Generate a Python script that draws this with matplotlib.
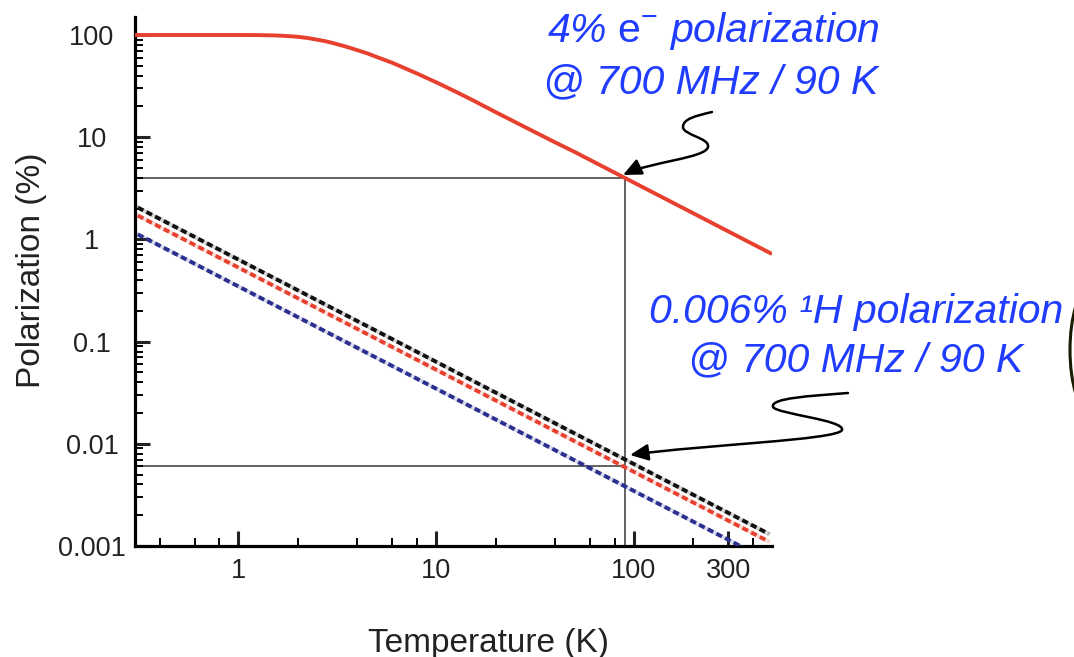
import numpy as np
import matplotlib
matplotlib.use("Agg")
import matplotlib.pyplot as plt
from matplotlib.path import Path
from matplotlib.patches import FancyArrowPatch, Ellipse
from matplotlib.ticker import LogLocator, NullFormatter, FixedLocator, FixedFormatter

plt.rcParams["font.family"] = ["Liberation Sans", "DejaVu Sans"]
plt.rcParams["mathtext.fontset"] = "custom"
plt.rcParams["mathtext.rm"] = "Liberation Sans"
plt.rcParams["mathtext.it"] = "Liberation Sans:italic"

# ── Data ──────────────────────────────────────────────────────────────────────
# electron polarization (%) vs temperature (K), red curve
temp_e = [0.3, 1.0, 1.25, 1.5, 1.75, 2.0, 2.25, 2.5, 2.75, 3.0, 3.5, 4.0, 4.5,
          5.0, 6.0, 7.0, 8.0, 10, 12.5, 15, 20, 30, 40, 50, 90, 150, 250, 500]
pol_e = [100, 100, 99.8, 99.2, 97.8, 96, 93.3, 90, 87, 83.5, 77, 71, 66,
         61, 53.5, 47, 42, 34.5, 28, 23.5, 17.6, 11.8, 8.9, 7.2, 4.0, 2.4, 1.44, 0.72]

# 1H polarization (%) — three fields, straight lines on log-log
temp_h = [0.31, 480]
pol_h_black = [2.05, 0.00132]
pol_h_red = [1.71, 0.00111]
pol_h_blue = [1.12, 0.00072]

# marked operating point
temp_mark = 90
pol_e_mark = 4
pol_h_mark = 0.006

x_ticks = [1, 10, 100, 300]
x_tick_labels = ["1", "10", "100", "300"]
y_ticks = [0.001, 0.01, 0.1, 1, 10, 100]
y_tick_labels = ["0.001", "0.01", "0.1", "1", "10", "100"]

# ── Colours ──────────────────────────────────────────────────────────────────
RED = "#e8402e"
BLACK = "#111111"
NAVY = "#2b2f8f"
GUIDE = "#555555"
NOTE_BLUE = "#1f3cff"
TEXT = "#222222"

W, H = 1074, 657


def px(x, y):
    """Pixel position (from top-left) -> figure fraction."""
    return (x / W, 1 - y / H)


fig = plt.figure(figsize=(W / 100, H / 100), dpi=100)
ax = fig.add_axes([135 / W, 1 - 546 / H, (772 - 135) / W, (546 - 17) / H])
ax.set_xscale("log")
ax.set_yscale("log")
ax.set_xlim(0.3, 500)
ax.set_ylim(0.001, 150)

# guide lines
ax.hlines(pol_e_mark, 0.3, temp_mark, color=GUIDE, lw=1.3, zorder=1)
ax.hlines(pol_h_mark, 0.3, temp_mark, color=GUIDE, lw=1.3, zorder=1)
ax.vlines(temp_mark, 0.001, pol_e_mark, color=GUIDE, lw=1.3, zorder=1)

# nuclear lines: pale underlay + dashes
for vals, c in [(pol_h_black, BLACK), (pol_h_red, RED), (pol_h_blue, NAVY)]:
    ax.plot(temp_h, vals, color=c, lw=2.8, alpha=0.18, zorder=2)
    ax.plot(temp_h, vals, color=c, lw=2.8, ls=(0, (1.6, 0.9)), zorder=3)

# electron curve
ax.plot(temp_e, pol_e, color=RED, lw=2.8, zorder=4, solid_capstyle="butt")

# axes styling
for side in ("top", "right"):
    ax.spines[side].set_visible(False)
for side in ("left", "bottom"):
    ax.spines[side].set_linewidth(2.3)

ax.xaxis.set_major_locator(FixedLocator(x_ticks))
ax.xaxis.set_major_formatter(FixedFormatter(x_tick_labels))
ax.xaxis.set_minor_locator(LogLocator(base=10, subs=(2, 4, 6, 8), numticks=50))
ax.xaxis.set_minor_formatter(NullFormatter())
ax.yaxis.set_major_locator(FixedLocator(y_ticks))
ax.yaxis.set_major_formatter(FixedFormatter(y_tick_labels))
ax.yaxis.set_minor_locator(LogLocator(base=10, subs=np.arange(2, 10), numticks=50))
ax.yaxis.set_minor_formatter(NullFormatter())

ax.tick_params(which="both", direction="in", color="black")
ax.tick_params(which="major", length=11, width=2.2)
ax.tick_params(which="minor", length=6, width=1.4)
ax.tick_params(axis="x", pad=9, labelsize=19.5, colors=TEXT)
ax.tick_params(axis="y", pad=31, labelsize=19.5, colors=TEXT)
for lbl in ax.get_yticklabels():
    lbl.set_horizontalalignment("center")

# axis labels
fig.text(*px(489, 652), "Temperature (K)", fontsize=24, ha="center", va="baseline",
         color=TEXT)
fig.text(*px(32, 270), "Polarization (%)", fontsize=24, rotation=90,
         ha="center", va="center", color=TEXT)

# annotations
note = dict(fontsize=29.5, style="italic", color=NOTE_BLUE, ha="center", va="baseline")
fig.text(*px(713, 42), r"4% $\mathrm{e}^{-}$ polarization", **note)
fig.text(*px(711, 93), "@ 700 MHz / 90 K", **note)
fig.text(*px(856, 323), "0.006% \u00b9H polarization", **note)
fig.text(*px(856, 371), "@ 700 MHz / 90 K", **note)

# squiggly arrows (pixel positions)
arrow_style = "-|>,head_length=0.55,head_width=0.25"
squiggles = [
    [(712, 112), (695, 116), (683, 119), (683, 127),
     (683, 135), (710, 138), (708, 147),
     (706, 158), (650, 162), (623, 175)],
    [(848, 393), (810, 396), (770, 398), (773, 407),
     (777, 414), (845, 420), (842, 430),
     (838, 440), (700, 445), (630, 455)],
]
codes = [Path.MOVETO] + [Path.CURVE4] * 9
for pts in squiggles:
    verts = [px(x, y) for x, y in pts]
    arr = FancyArrowPatch(path=Path(verts, codes), arrowstyle=arrow_style,
                          mutation_scale=20, lw=1.8, color="black",
                          transform=fig.transFigure)
    fig.add_artist(arr)

# partly visible bracket at the right edge
fig.add_artist(Ellipse(px(1090, 350), 40 / W, 124 / H, fill=False, lw=2.2,
                       ec="#1a1a00", transform=fig.transFigure))

fig.savefig("out.png", dpi=100)
